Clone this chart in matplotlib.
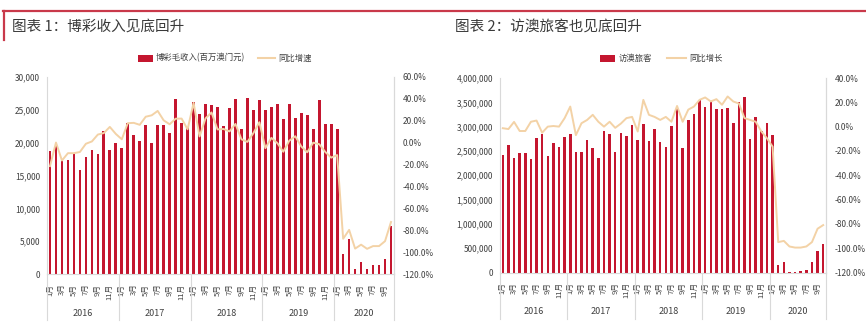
import matplotlib
matplotlib.use("Agg")
import matplotlib.pyplot as plt
from matplotlib.patches import Rectangle
from matplotlib.lines import Line2D
from matplotlib.ticker import FuncFormatter
import matplotlib.transforms as mtrans

CJK = ["Noto Sans CJK SC", "DejaVu Sans"]
plt.rcParams["font.family"] = CJK

years = ["2016", "2017", "2018", "2019", "2020"]
months_per_year = [12, 12, 12, 12, 10]
month_labels = ["1月", "3月", "5月", "7月", "9月", "11月"]

# Gross gaming revenue, MOP million, Jan 2016 - Oct 2020
ggr = [18674, 19525, 17303, 17336, 18267, 15880, 17783, 18835, 18328, 21847, 18845, 19895,
       19255, 22994, 21226, 20180, 22764, 19990, 22706, 22685, 21410, 26627, 22979, 22310,
       26260, 24310, 25934, 25729, 25490, 22490, 25327, 26600, 22070, 26807, 24980, 26471,
       24942, 25370, 25840, 23590, 25950, 23810, 24450, 24260, 22080, 26443, 22877, 22837,
       22126, 3104, 5257, 754, 1764, 716, 1344, 1330, 2211, 7270]
ggr_yoy = [-21.4, 0.1, -16.3, -9.6, -9.6, -8.5, -1.0, 1.1, 7.4, 8.8, 14.4, 8.0,
           3.1, 17.8, 18.1, 16.3, 23.7, 25.0, 29.0, 20.4, 16.8, 21.9, 22.0, 12.2,
           36.4, 5.7, 22.2, 27.6, 12.1, 12.5, 10.3, 17.1, 3.1, 0.7, 8.7, 18.7,
           -5.0, 4.4, -0.4, -8.3, 1.8, 5.9, -3.5, -8.8, 0.0, -1.4, -8.4, -13.7,
           -11.3, -87.8, -79.7, -96.8, -93.2, -97.0, -94.5, -94.5, -90.0, -72.5]

# Visitor arrivals, persons
visitors = [2420000, 2620000, 2350000, 2450000, 2460000, 2340000, 2770000, 2840000, 2400000, 2660000, 2580000, 2790000,
            2850000, 2470000, 2480000, 2730000, 2560000, 2360000, 2900000, 2850000, 2470000, 2870000, 2810000, 3030000,
            2730000, 3060000, 2710000, 2950000, 2690000, 2590000, 3010000, 3360000, 2560000, 3140000, 3260000, 3550000,
            3410000, 3530000, 3360000, 3360000, 3380000, 3080000, 3510000, 3600000, 2750000, 3190000, 2900000, 3070000,
            2830000, 155000, 210000, 11000, 16000, 22000, 60000, 225000, 445000, 580000]
visitors_yoy = [-1.3, -2.0, 3.9, -3.6, -3.6, 4.0, 5.0, -5.0, 0.0, 0.5, 0.0, 7.0,
                16.5, -7.0, 2.8, 5.5, 9.7, 4.0, 0.0, 4.0, -1.0, 2.5, 7.0, 8.0,
                -4.0, 22.0, 9.7, 8.0, 5.5, 8.0, 4.0, 17.0, 4.0, 14.0, 16.5, 22.0,
                24.0, 20.7, 22.6, 18.0, 24.8, 20.7, 19.0, 7.0, 5.5, 4.0, -4.0, -9.6,
                -16.5, -95.0, -94.0, -98.6, -99.5, -99.5, -98.6, -95.0, -84.0, -81.0]

BAR = "#C4162F"
LINE = "#F3D2A6"
ACCENT = "#C9394A"
SPINE = "#D9D9D9"
TXT = "#404040"

W, H = 866, 325
fig = plt.figure(figsize=(W / 100, H / 100), dpi=100)


def px_axes(x0, y0, x1, y1):
    return fig.add_axes([x0 / W, 1 - y1 / H, (x1 - x0) / W, (y1 - y0) / H])


def fx(x):
    return x / W


def fy(y):
    return 1 - y / H


# header rule and accent
fig.add_artist(Line2D([fx(3), fx(866)], [fy(11), fy(11)], color=ACCENT, lw=1.6))
fig.add_artist(Line2D([fx(3.5), fx(3.5)], [fy(11), fy(40)], color=ACCENT, lw=1.6))

fig.text(fx(12), fy(27), "图表 1：博彩收入见底回升", fontsize=10.5, color="#3a3a3a",
         va="center", ha="left")
fig.text(fx(455), fy(27), "图表 2：访澳旅客也见底回升", fontsize=10.5, color="#3a3a3a",
         va="center", ha="left")


def legend(x_patch, x_text, bar_label, x_line, x_line_end, x_text2, line_label, y=58):
    fig.add_artist(Rectangle((fx(x_patch), fy(y + 3.5)), (x_line - x_line) / W + 15 / W, 7 / H,
                             transform=fig.transFigure, color=BAR, lw=0))
    fig.text(fx(x_text), fy(y), bar_label, fontsize=6, color=TXT, va="center", ha="left")
    fig.add_artist(Line2D([fx(x_line), fx(x_line_end)], [fy(y), fy(y)], color=LINE, lw=1.5))
    fig.text(fx(x_text2), fy(y), line_label, fontsize=6, color=TXT, va="center", ha="left")


legend(138, 156, "博彩毛收入(百万澳门元)", 258, 275, 278, "同比增速")
legend(600, 619, "访澳旅客", 667, 686, 689, "同比增长")


def panel(x0, y0, x1, y1, bars, yoy, ymax, ystep, lo, hi, pstep, fmt_left):
    ax = px_axes(x0, y0, x1, y1)
    n = len(bars)
    xs = list(range(n))
    ax.bar(xs, bars, width=0.45, color=BAR, zorder=2)
    ax.set_xlim(-0.5, n - 0.5)
    ax.set_ylim(0, ymax)
    ax.set_yticks([v for v in range(0, ymax + 1, ystep)])
    ax.yaxis.set_major_formatter(FuncFormatter(fmt_left))
    for s in ["top"]:
        ax.spines[s].set_visible(False)
    for s in ["left", "right", "bottom"]:
        ax.spines[s].set_color(SPINE)
        ax.spines[s].set_linewidth(0.8)
    ax.tick_params(axis="y", length=0, labelsize=6, colors=TXT, pad=5)

    # month ticks
    pos, labs = [], []
    start = 0
    for cnt in months_per_year:
        for m in range(0, cnt, 2):
            pos.append(start + m)
            labs.append(month_labels[m // 2])
        start += cnt
    ax.set_xticks(pos)
    ax.set_xticklabels(labs, rotation=90, fontsize=5.5, color=TXT)
    ax.tick_params(axis="x", length=0, pad=7)

    # year groups
    hpx = y1 - y0
    trans = mtrans.blended_transform_factory(ax.transData, ax.transAxes)
    start = 0
    bounds = [-0.5]
    for yr, cnt in zip(years, months_per_year):
        ax.text(start + (cnt - 1) / 2, -39 / hpx, yr, transform=trans, fontsize=6.5,
                color=TXT, ha="center", va="center")
        start += cnt
        bounds.append(start - 0.5)
    for b in bounds:
        ax.plot([b, b], [0, -46 / hpx], transform=trans, color=SPINE, lw=0.8, clip_on=False)

    ax2 = ax.twinx()
    ax2.plot(xs, yoy, color=LINE, lw=1.4, zorder=3)
    ax2.set_ylim(lo, hi)
    ax2.set_yticks(list(range(lo, hi + 1, pstep)))
    ax2.yaxis.set_major_formatter(FuncFormatter(lambda v, p: f"{v:.1f}%"))
    ax2.tick_params(axis="y", length=0, labelsize=6, colors=TXT, pad=6)
    for s in ["top", "left", "bottom"]:
        ax2.spines[s].set_visible(False)
    ax2.spines["right"].set_color(SPINE)
    ax2.spines["right"].set_linewidth(0.8)
    return ax, ax2


panel(47, 77, 394, 274, ggr, ggr_yoy, 30000, 5000, -120, 60, 20,
      lambda v, p: f"{int(v):,}")
panel(500, 78, 826, 272.5, visitors, visitors_yoy, 4000000, 500000, -120, 40, 20,
      lambda v, p: f"{int(v):,}")

fig.savefig("out.png", dpi=100)
